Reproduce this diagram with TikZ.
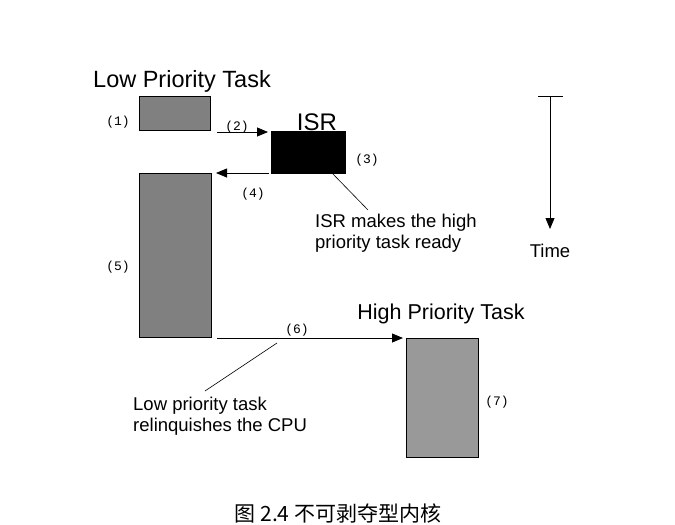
\documentclass[tikz,border=0pt]{standalone}
\usepackage{fontspec}
\setmainfont{Liberation Sans}
\newfontfamily\monofont{Liberation Mono}
\newfontfamily\cjk{Noto Sans CJK SC}
\usetikzlibrary{arrows.meta}

\tikzset{
  task/.style={draw=black, line width=0.8pt, inner sep=0, outer sep=0, anchor=north west},
  num/.style={font=\monofont\fontsize{13}{13}\selectfont, inner sep=0},
  title/.style={font=\fontsize{21.5}{21.5}\selectfont, inner sep=0},
  note/.style={font=\fontsize{18.5}{21}\selectfont, align=left, inner sep=0, anchor=north west},
  flow/.style={line width=0.8pt, -{Triangle[length=11pt, width=9pt]}}
}

\begin{document}
\begin{tikzpicture}[x=1pt, y=-1pt]
\useasboundingbox (0, 0) rectangle (675, 525);

% tasks
\node[task, fill=black!50, minimum width=71, minimum height=34] (low1) at (139, 96) {};
\node[task, fill=black, minimum width=74, minimum height=42] (isr) at (271, 131) {};
\node[task, fill=black!50, minimum width=72, minimum height=164] (low2) at (139, 173) {};
\node[task, fill=black!40, minimum width=72, minimum height=119] (high) at (406, 338) {};

\node[title, font=\fontsize{23.5}{23.5}\selectfont] (tlow) at (182, 81) {Low Priority Task};
\node[title, font=\fontsize{24}{24}\selectfont] (tisr) at (317, 122) {ISR};
\node[title] (thigh) at (441, 314) {High Priority Task};

\node[num] (n1) at (118, 122) {(1)};
\node[num] (n3) at (367, 160) {(3)};
\node[num] (n5) at (118, 267) {(5)};
\node[num] (n7) at (497, 402) {(7)};

% switches
\coordinate (s2) at (217, 132);
\coordinate (e2) at (268, 132);
\coordinate (s4) at (269, 173);
\coordinate (e4) at (216, 173);
\coordinate (s6) at (217, 338);
\coordinate (e6) at (403, 338);

\draw[flow] (s2) -- (e2);
\draw[flow] (s4) -- (e4);
\draw[flow] (s6) -- (e6);

\node[num] (n2) at (237, 127) {(2)};
\node[num] (n4) at (253, 194) {(4)};
\node[num] (n6) at (297, 330) {(6)};

% notes
\node[note] (nisr) at (315, 214) {ISR makes the high\\priority task ready};
\node[note] (nlow) at (133, 397) {Low priority task\\relinquishes the CPU};

\coordinate (p1) at (332, 173);
\coordinate (p2) at (368, 210);
\coordinate (q1) at (277, 343);
\coordinate (q2) at (205, 391);
\draw[line width=0.6pt] (p1) -- (p2);
\draw[line width=0.6pt] (q1) -- (q2);

% time axis
\coordinate (t0) at (550, 96);
\coordinate (t1) at (550, 229);
\draw[line width=0.8pt] (538, 96) -- (563, 96);
\draw[flow] (t0) -- (t1);
\node[note, anchor=center] (time) at (550, 251) {Time};

\node[font=\cjk\fontsize{21}{21}\selectfont, inner sep=0] (cap) at (338, 513) {图 2.4 不可剥夺型内核};
\end{tikzpicture}
\end{document}
